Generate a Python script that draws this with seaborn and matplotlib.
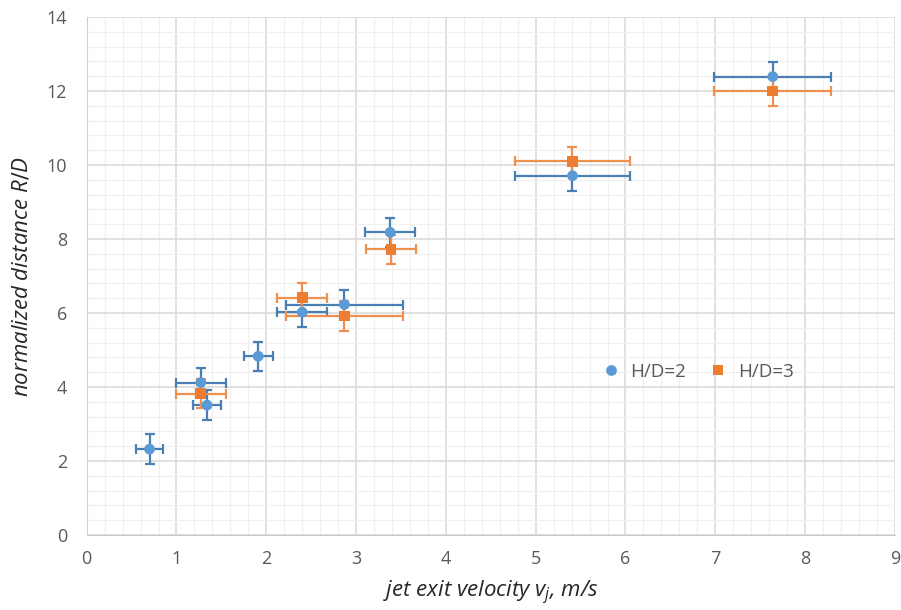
import numpy as np
import pandas as pd
import matplotlib
matplotlib.use('Agg')
import matplotlib.pyplot as plt
from matplotlib.ticker import MultipleLocator
import seaborn as sns

#data
v_hd2 = [0.70, 1.27, 1.34, 1.91, 2.40, 2.87, 3.38, 5.41, 7.64]
r_hd2 = [2.32, 4.12, 3.51, 4.83, 6.02, 6.23, 8.18, 9.71, 12.39]
verr_hd2 = [0.15, 0.28, 0.16, 0.16, 0.28, 0.65, 0.28, 0.64, 0.65]
rerr_hd2 = [0.4, 0.4, 0.4, 0.4, 0.4, 0.4, 0.4, 0.4, 0.4]

v_hd3 = [1.27, 2.40, 2.87, 3.39, 5.41, 7.64]
r_hd3 = [3.82, 6.41, 5.92, 7.72, 10.10, 12.00]
verr_hd3 = [0.28, 0.28, 0.65, 0.28, 0.64, 0.65]
rerr_hd3 = [0.4, 0.4, 0.4, 0.4, 0.4, 0.4]

labels = ['H/D=2', 'H/D=3']

df = pd.DataFrame({
    'v': v_hd2 + v_hd3,
    'r': r_hd2 + r_hd3,
    'verr': verr_hd2 + verr_hd3,
    'rerr': rerr_hd2 + rerr_hd3,
    'case': [labels[0]] * len(v_hd2) + [labels[1]] * len(v_hd3),
})

sns.set_style('white')
plt.rcParams['font.family'] = ['Open Sans', 'DejaVu Sans']
plt.rcParams['mathtext.fontset'] = 'custom'
plt.rcParams['mathtext.it'] = 'Open Sans:italic'

fig = plt.figure(figsize=(9.01, 6.10), dpi=100)
ax = fig.add_axes([0.0962, 0.123, 0.897, 0.849])

marker_col = {labels[0]: '#5B9BD5', labels[1]: '#ED7D31'}
err_col = {labels[0]: '#4A7FB5', labels[1]: '#EE914F'}

#error bars first so markers sit on top
for case, g in df.groupby('case'):
    ax.errorbar(g['v'], g['r'], xerr=g['verr'], yerr=g['rerr'], fmt='none',
                ecolor=err_col[case], elinewidth=1.6, capsize=3.8, capthick=1.6, zorder=2)

sns.scatterplot(data=df, x='v', y='r', hue='case', style='case',
                markers={labels[0]: 'o', labels[1]: 's'}, palette=marker_col,
                s=60, edgecolor='none', linewidth=0, ax=ax, zorder=3)

ax.set_xlim(0, 9)
ax.set_ylim(0, 14)
ax.xaxis.set_major_locator(MultipleLocator(1))
ax.yaxis.set_major_locator(MultipleLocator(2))
ax.xaxis.set_minor_locator(MultipleLocator(0.2))
ax.yaxis.set_minor_locator(MultipleLocator(0.4))
ax.grid(which='major', color='#D9D9D9', linewidth=1.1, zorder=0)
ax.grid(which='minor', color='#F0F0F0', linewidth=0.9, zorder=0)
ax.set_axisbelow(True)
for s in ax.spines.values():
    s.set_visible(False)
ax.spines['left'].set_visible(True)
ax.spines['bottom'].set_visible(True)
ax.spines['left'].set_color('#D0D0D0')
ax.spines['bottom'].set_color('#C8C8C8')
ax.tick_params(which='both', length=0, labelsize=13, labelcolor='#595959')
ax.tick_params(axis='x', pad=11)
ax.tick_params(axis='y', pad=14)

ax.set_xlabel('jet exit velocity $v_j$, m/s', fontsize=16, style='italic', color='#262626', labelpad=8)
ax.set_ylabel('normalized distance $R/D$', fontsize=16, style='italic', color='#262626', labelpad=10)

leg = ax.legend(loc='center', bbox_to_anchor=(0.75, 0.315), ncol=2, frameon=False,
                fontsize=13.5, handletextpad=0.05, columnspacing=0.7, markerscale=1.0)
for t in leg.get_texts():
    t.set_color('#595959')

fig.savefig('out.png', dpi=100)
